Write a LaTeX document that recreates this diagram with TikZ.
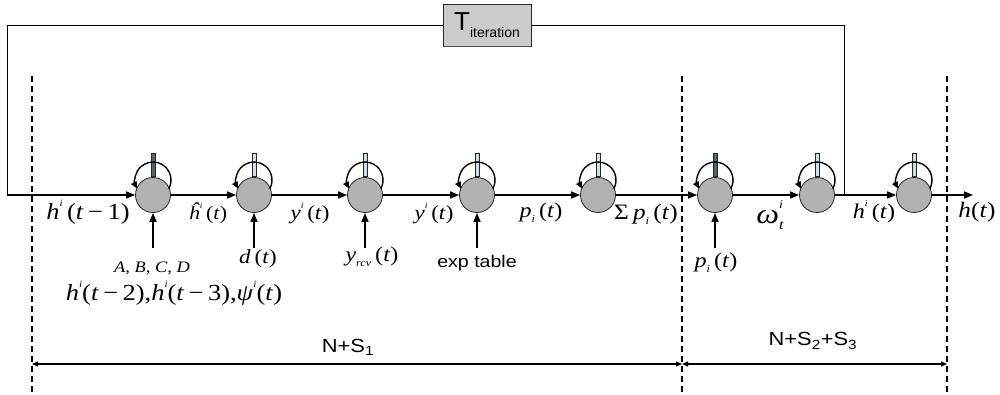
\documentclass[tikz,border=0pt]{standalone}
\usepackage{fontspec}
\setmainfont{Liberation Serif}
\newfontfamily\ars{Liberation Sans}
\usetikzlibrary{arrows.meta}
\newcommand\sx[1]{\scalebox{1.15}[1]{#1}}
\newcommand\fs[1]{\fontsize{#1}{#1}\selectfont}
\newcommand\sups[1]{\raisebox{0.55em}{\scalebox{0.42}{\itshape #1}}}
\newcommand\subs[1]{\raisebox{-0.22em}{\scalebox{0.5}{\itshape #1}}}
\definecolor{barlight}{RGB}{205,225,228}
\definecolor{bardark}{RGB}{85,100,100}
\begin{document}
\begin{tikzpicture}[x=1pt,y=-1pt,
  cell/.style={circle,draw=black!85,line width=0.8pt,fill=black!30,minimum size=35pt,inner sep=0pt},
  flow/.style={line width=1.6pt,-{Triangle[length=9pt,width=7pt]}},
  loopar/.style={line width=1.4pt,-{Triangle[length=7pt,width=6pt]}},
  frame/.style={line width=0.8pt},
  bar/.style={draw=black!85,line width=0.6pt},
  sep/.style={line width=1.3pt,dash pattern=on 6pt off 4pt},
  dim/.style={line width=1.3pt,{Triangle[length=6pt,width=5pt]}-{Triangle[length=6pt,width=5pt]}},
  lab/.style={inner sep=0pt}]
\useasboundingbox (0,0) rectangle (1000,395);
% separators
\draw[sep] (32,76) -- (32,395);
\draw[sep] (682,76) -- (682,395);
\draw[sep] (947,76) -- (947,395);
% cells
\foreach \n/\x in {c1/153,c2/254,c3/365,c4/477,c5/598,c6/715,c7/817,c8/914}
  \node[cell] (\n) at (\x,195) {};
% bars and self loops
\foreach \n/\c in {c1/bardark,c2/barlight,c3/barlight,c4/barlight,c5/barlight,c6/bardark,c7/barlight,c8/barlight}{
  \draw[bar,fill=\c] ([shift={(-2,-42)}]\n.center) rectangle ([shift={(2,-19)}]\n.center);
  \draw[loopar] ([shift={(15.8,-6.3)}]\n.center) arc[start angle=28.7,end angle=-208.7,radius=18];
}
% main line
\coordinate (s) at (7,195);
\coordinate (j) at (844,195);
\coordinate (e) at (973,195);
\draw[flow] (s) -- (c1);
\draw[flow] (c1) -- (c2);
\draw[flow] (c2) -- (c3);
\draw[flow] (c3) -- (c4);
\draw[flow] (c4) -- (c5);
\draw[flow] (c5) -- (c6);
\draw[flow] (c6) -- (c7);
\draw[flow] (c7) -- (c8);
\draw[flow] (c8) -- (e);
% feedback frame
\node[draw=black!85,line width=0.8pt,fill=black!20,minimum width=88pt,minimum height=42pt,inner sep=0pt] (T) at (487,25)
  {\ars\fs{26}T\raisebox{-0.25em}{\fs{14}iteration}};
\draw[line width=1.6pt,black!70] (T.south west) -- (T.south east);
\draw[frame] (j) |- (T.east);
\draw[frame] (T.west) -| (s);
% input arrows
\foreach \n in {c1,c2,c3,c4,c6}{
  \coordinate (i\n) at ([yshift=-53pt]\n.center);
  \draw[flow] (i\n) -- (\n);
}
% labels
\node[lab] (l1) at (88,212) {\fs{23}\sx{\textit{h}\sups{i}\,(\textit{t}\,−\,1)}};
\node[lab] (l2) at (208,213) {\fs{19}\sx{\textit{ĥ}\sups{i}\,(\textit{t})}};
\node[lab] (l3) at (310,213) {\fs{20}\sx{\textit{y}\sups{i}\,(\textit{t})}};
\node[lab] (l4) at (258,259) {\fs{20}\sx{\textit{d}\,(\textit{t})}};
\node[lab] (l5) at (372,257) {\fs{21}\sx{\textit{y}\subs{rcv}\,(\textit{t})}};
\node[lab] (l6) at (434,213) {\fs{20}\sx{\textit{y}\sups{i}\,(\textit{t})}};
\node[lab] (l7) at (541,213) {\fs{21}\sx{\textit{p}\subs{i}\,(\textit{t})}};
\node[lab] (l8) at (646,214) {\fs{22}\sx{Σ\,\textit{p}\subs{i}\,(\textit{t})}};
\node[lab] (l9) at (716,263) {\fs{21}\sx{\textit{p}\subs{i}\,(\textit{t})}};
\node[lab] (l10) at (770,215) {\fs{28}\sx{\textit{ω}\rlap{\sups{i}}\subs{t}}};
\node[lab] (l11) at (874,212) {\fs{21}\sx{\textit{h}\sups{i}\,(\textit{t})}};
\node[lab] (l12) at (977,212) {\fs{22}\sx{\textit{h}(\textit{t})}};
\node[lab] (l13) at (152,268) {\fs{16}\sx{\textit{A, B, C, D}}};
\node[lab] (l14) at (174,293) {\fs{23}\sx{\textit{h}\sups{i}(\textit{t}\,−\,2),\textit{h}\sups{i}(\textit{t}\,−\,3),\textit{ψ}\sups{i}(\textit{t})}};
\node[lab] (l15) at (477,263) {\ars\fs{17}\sx{exp table}};
% dimension arrows
\coordinate (d1) at (32,364);
\coordinate (d2) at (682,364);
\coordinate (d3) at (947,364);
\draw[dim] (d1) -- (d2);
\draw[dim] (d2) -- (d3);
\node[lab] (n1) at (348,347) {\ars\fs{19}\sx{N+S\textsubscript{1}}};
\node[lab] (n2) at (813,341) {\ars\fs{19}\sx{N+S\textsubscript{2}+S\textsubscript{3}}};
\end{tikzpicture}
\end{document}
